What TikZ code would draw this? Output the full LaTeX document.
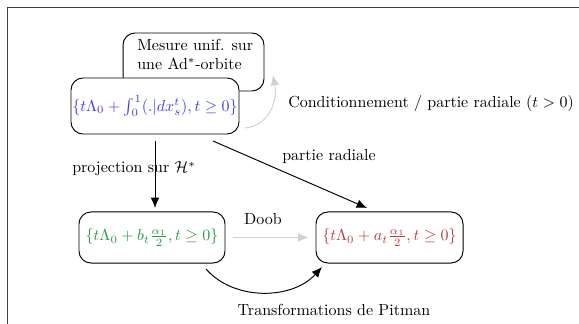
\documentclass[tikz,border=0pt]{standalone}
\usepackage{amsmath,amssymb}
\usetikzlibrary{arrows.meta}
\definecolor{cblue}{RGB}{60,60,245}
\definecolor{cgreen}{RGB}{40,150,70}
\definecolor{cred}{RGB}{185,60,60}
\tikzset{
  rbox/.style={draw=black, line width=0.6pt, rounded corners=7.5pt, fill=white, inner sep=0pt},
  arr/.style={-{Latex[length=6.5pt,width=5.5pt]}, line width=0.6pt, black},
  garr/.style={-{Latex[length=6.5pt,width=5.5pt]}, line width=0.6pt, black!18},
  lbl/.style={inner sep=1pt, font=\normalsize}
}
\begin{document}
\begin{tikzpicture}[x=0.625pt,y=-0.625pt]
\useasboundingbox (0,0) rectangle (579,324);
\draw[line width=0.6pt, black!75] (7,340) -- (7,7) -- (600,7);
% back node
\node[rbox, minimum width=88.1pt, minimum height=36.25pt] (mesure) at (193.5,62) {};
\node[align=left, inner sep=0pt, anchor=north west] (mesuretxt) at (137,39) {Mesure unif. sur\\une Ad$^*$-orbite};
% front node
\node[rbox, minimum width=105pt, minimum height=35pt, text=cblue] (front) at (155,106) {$\{t\Lambda_0+\int_0^1(.|dx_s^t),t\geq 0\}$};
% green and red
\node[rbox, minimum width=91.25pt, minimum height=31.9pt, text=cgreen] (green) at (152,237.5) {$\{t\Lambda_0+b_t\frac{\alpha_1}{2},t\geq 0\}$};
\node[rbox, minimum width=91.9pt, minimum height=31.9pt, text=cred] (red) at (389.5,237.5) {$\{t\Lambda_0+a_t\frac{\alpha_1}{2},t\geq 0\}$};
% conditionnement arrow
\coordinate (cs) at (245,128);
\coordinate (ce) at (273,75);
\draw[garr] (cs) .. controls (268,126) and (278,102) .. (ce);
\node[lbl] (condlbl) at (431,104) {Conditionnement / partie radiale ($t>0$)};
% projection
\coordinate (ps) at (155,141);
\coordinate (pe) at (155,208);
\draw[arr] (ps) -- (pe);
\node[lbl] (projlbl) at (134,169) {projection sur $\mathcal{H}^*$};
% partie radiale
\coordinate (rs) at (213,141);
\coordinate (re) at (367,208);
\draw[arr] (rs) -- (re);
\node[lbl] (radlbl) at (329,157) {partie radiale};
% Doob
\draw[garr, shorten <=4.4pt, shorten >=4.4pt] (green.east) -- (red.west);
\node[lbl] (dooblbl) at (263,219) {Doob};
% Pitman
\coordinate (ts) at (206,269);
\coordinate (te) at (322,267);
\draw[arr] (ts) .. controls (234,301) and (292,300) .. (te);
\node[lbl] (pitlbl) at (334,310) {Transformations de Pitman};
\end{tikzpicture}
\end{document}
